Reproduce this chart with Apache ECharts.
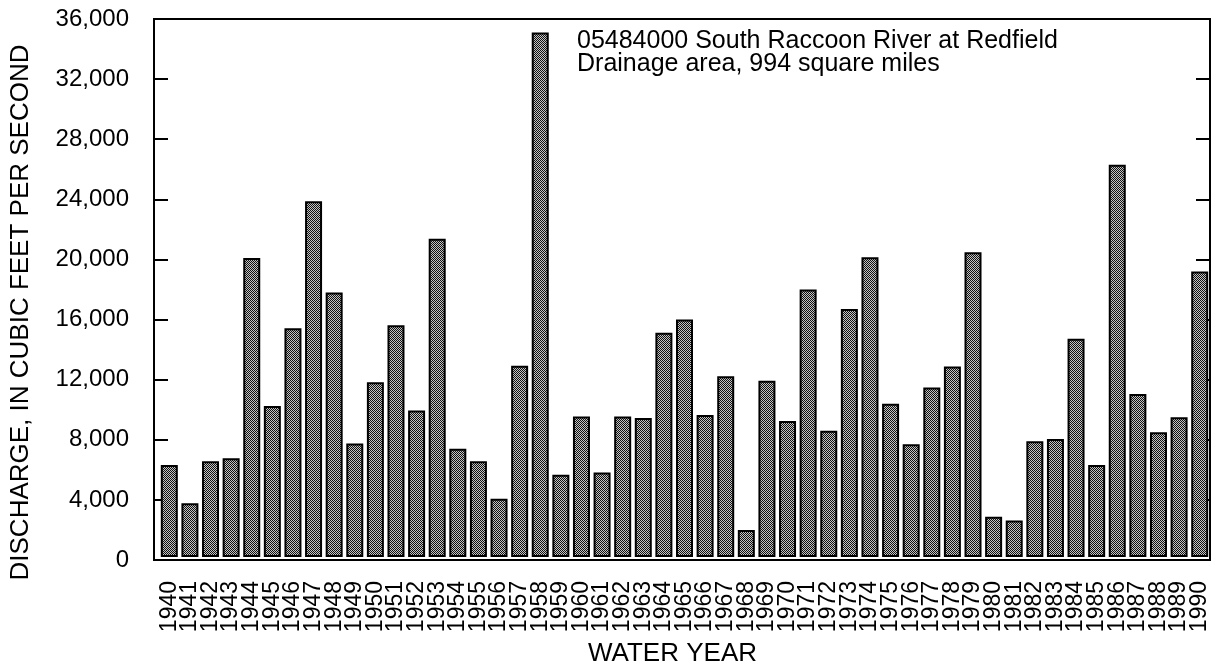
<!DOCTYPE html>
<html>
<head>
<meta charset="utf-8">
<script src="https://cdn.jsdelivr.net/npm/echarts@6/dist/echarts.min.js"></script>
<style>
  html, body { margin: 0; padding: 0; background: #fff; }
  #chart { width: 1222px; height: 672px; }
</style>
</head>
<body>
<div id="chart"></div>
<script>
// water years 1940-1990
var years = [];
for (var y = 1940; y <= 1990; y++) years.push(String(y));

// annual peak discharge, cubic feet per second
var discharge = [
  6150, 3600, 6400, 6600, 20000, 10100, 15300, 23800, 17700, 7600,
  11700, 15500, 9800, 21300, 7250, 6400, 3900, 12800, 35100, 5500,
  9400, 5650, 9400, 9300, 15000, 15900, 9500, 12100, 1800, 11800,
  9100, 17900, 8450, 16600, 20050, 10250, 7550, 11350, 12750, 20400,
  2700, 2450, 7750, 7900, 14600, 6150, 26250, 10900, 8350, 9350,
  19100
];

var yMin = 0, yMax = 36000, yStep = 4000;
var stationLines = [
  "05484000 South Raccoon River at Redfield",
  "Drainage area, 994 square miles"
];

var FONT = "'Liberation Sans', Arial, Helvetica, sans-serif";

// dotted fill like the printed screen
function makePattern() {
  var c = document.createElement("canvas");
  c.width = 2; c.height = 2;
  var ctx = c.getContext("2d");
  ctx.fillStyle = "#c4c4c4";
  ctx.fillRect(0, 0, 2, 2);
  ctx.fillStyle = "#111";
  ctx.fillRect(0, 0, 1, 1);
  ctx.fillRect(1, 1, 1, 1);
  return c;
}

var chart = echarts.init(document.getElementById("chart"), null, { renderer: "canvas" });

var option = {
  backgroundColor: "#fff",
  animation: false,
  textStyle: { fontFamily: FONT, color: "#000" },
  grid: [
    // frame + value axis
    { left: 150, right: 12, top: 19, bottom: 112, show: true, borderColor: "#000", borderWidth: 2, backgroundColor: "transparent" },
    // bars (first category sits a little in from the frame)
    { left: 159, right: 12, top: 19, bottom: 112 }
  ],
  xAxis: [
    { gridIndex: 0, type: "category", data: [""], show: false },
    {
      gridIndex: 1,
      type: "category",
      data: years,
      axisLine: { show: false },
      axisTick: { show: false },
      axisLabel: { rotate: 90, interval: 0, fontSize: 23, margin: 24, color: "#000", fontFamily: FONT },
      name: "WATER YEAR",
      nameLocation: "middle",
      nameGap: 84,
      nameTextStyle: { fontSize: 26, color: "#000", fontFamily: FONT, padding: [0, 24, 0, 0] }
    }
  ],
  yAxis: [
    {
      gridIndex: 0,
      type: "value",
      position: "left",
      min: yMin, max: yMax, interval: yStep,
      axisLine: { show: false },
      axisTick: { show: true, inside: true, length: 14, lineStyle: { color: "#000", width: 2 } },
      splitLine: { show: false },
      axisLabel: {
        fontSize: 24, margin: 25, color: "#000", fontFamily: FONT,
        formatter: function (v) { return v.toLocaleString("en-US"); }
      },
      name: "DISCHARGE, IN CUBIC FEET PER SECOND",
      nameLocation: "middle",
      nameGap: 120,
      nameTextStyle: { fontSize: 26, color: "#000", fontFamily: FONT, padding: [0, 46, 0, 0] }
    },
    {
      gridIndex: 0,
      type: "value",
      position: "right",
      min: yMin, max: yMax, interval: yStep,
      axisLine: { show: false },
      axisTick: { show: true, inside: true, length: 14, lineStyle: { color: "#000", width: 2 } },
      axisLabel: { show: false },
      splitLine: { show: false }
    },
    { gridIndex: 1, type: "value", min: yMin, max: yMax, show: false }
  ],
  series: [
    {
      type: "bar",
      xAxisIndex: 1,
      yAxisIndex: 2,
      data: discharge,
      barWidth: 17,
      itemStyle: {
        color: { image: makePattern(), repeat: "repeat" },
        borderColor: "#000",
        borderWidth: 2
      }
    }
  ],
  graphic: [
    {
      type: "text",
      left: 577,
      top: 29,
      style: {
        text: stationLines.join("\n"),
        font: "25px " + FONT,
        lineHeight: 23,
        fill: "#000"
      }
    }
  ]
};

chart.setOption(option);
</script>
</body>
</html>
